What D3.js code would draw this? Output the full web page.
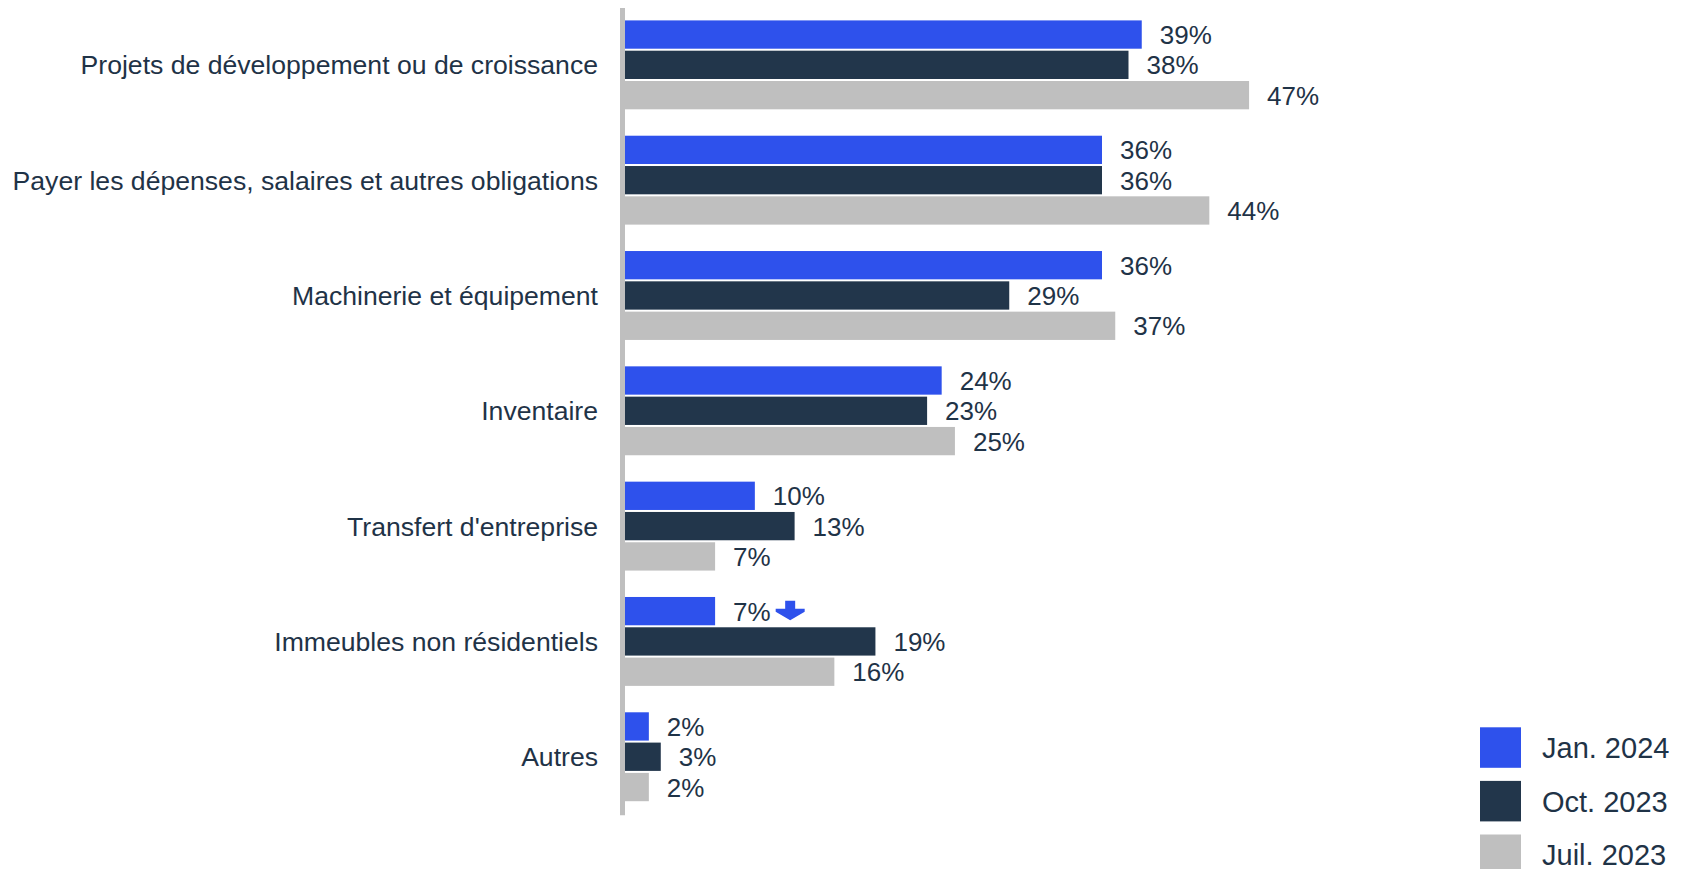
<!DOCTYPE html>
<html>
<head>
<meta charset="utf-8">
<script src="https://cdn.jsdelivr.net/npm/d3@7"></script>
<style>
  html, body { margin: 0; padding: 0; background: #ffffff; }
  svg { display: block; }
  text { font-family: "Liberation Sans", Arial, sans-serif; fill: #1f3347; }
</style>
</head>
<body>
<svg id="chart" width="1687" height="869"></svg>
<script>
// ---- Data (in %) ----
const categories = [
  "Projets de développement ou de croissance",
  "Payer les dépenses, salaires et autres obligations",
  "Machinerie et équipement",
  "Inventaire",
  "Transfert d'entreprise",
  "Immeubles non résidentiels",
  "Autres"
];
const seriesNames = ["Jan. 2024", "Oct. 2023", "Juil. 2023"];
const jan2024 = [39.0, 36.0, 36.0, 23.9, 9.8, 6.8, 1.8];
const oct2023 = [38.0, 36.0, 29.0, 22.8, 12.8, 18.9, 2.7];
const juil2023 = [47.1, 44.1, 37.0, 24.9, 6.8, 15.8, 1.8];
const seriesValues = [jan2024, oct2023, juil2023];
const seriesColors = ["#2e51ec", "#22364b", "#bfbfbf"];
// annotation: downward arrow next to a label
const arrowNotes = [{ category: "Immeubles non résidentiels", series: "Jan. 2024" }];

// ---- Scales ----
const svg = d3.select("#chart");
const x = d3.scaleLinear().domain([0, 50]).range([625, 625 + 50 * 13.25]);
const y = d3.scaleBand().domain(categories).range([20.4, 801.2]).paddingInner(0.229);
const yInner = d3.scaleBand().domain(seriesNames).range([0, y.bandwidth()]).paddingInner(0.066);
const color = d3.scaleOrdinal().domain(seriesNames).range(seriesColors);

const rows = [];
categories.forEach((c, ci) => {
  seriesNames.forEach((s, si) => {
    rows.push({ category: c, series: s, value: seriesValues[si][ci] });
  });
});

// ---- Bars ----
svg.append("g").selectAll("rect").data(rows).join("rect")
  .attr("x", x(0))
  .attr("y", d => y(d.category) + yInner(d.series))
  .attr("width", d => x(d.value) - x(0))
  .attr("height", yInner.bandwidth())
  .attr("fill", d => color(d.series));

// ---- Axis line ----
svg.append("line")
  .attr("x1", x(0) - 2.5).attr("x2", x(0) - 2.5)
  .attr("y1", y.range()[0] - 12.5).attr("y2", y.range()[1] + 14)
  .attr("stroke", "#bfbfbf").attr("stroke-width", 5);

// ---- Category labels ----
svg.append("g").selectAll("text").data(categories).join("text")
  .attr("x", x(0) - 27)
  .attr("y", c => y(c) + yInner(seriesNames[1]) + yInner.bandwidth() / 2)
  .attr("dy", "0.36em")
  .attr("text-anchor", "end")
  .style("font-size", "26.6px")
  .text(c => c);

// ---- Value labels ----
const valueLabels = svg.append("g").selectAll("text").data(rows).join("text")
  .attr("x", d => x(d.value) + 18)
  .attr("y", d => y(d.category) + yInner(d.series) + yInner.bandwidth() / 2)
  .attr("dy", "0.37em")
  .style("font-size", "26px")
  .text(d => Math.round(d.value) + "%");

// ---- Arrow annotation ----
valueLabels.each(function (d) {
  const note = arrowNotes.find(a => a.category === d.category && a.series === d.series);
  if (!note) return;
  const bb = this.getBBox();
  const x0 = bb.x + bb.width + 5;
  const yc = y(d.category) + yInner(d.series) + yInner.bandwidth() / 2;
  const w = 29, cx = x0 + w / 2, top = yc - 10.5;
  const path = d3.path();
  path.moveTo(cx - 5, top);
  path.lineTo(cx + 5, top);
  path.lineTo(cx + 5, top + 8);
  path.lineTo(x0 + w, top + 8);
  path.lineTo(x0 + w, top + 11);
  path.lineTo(cx, top + 19.5);
  path.lineTo(x0, top + 11);
  path.lineTo(x0, top + 8);
  path.lineTo(cx - 5, top + 8);
  path.closePath();
  svg.append("path").attr("d", path.toString()).attr("fill", color(d.series));
});

// ---- Legend ----
const legend = svg.append("g").selectAll("g").data(seriesNames).join("g")
  .attr("transform", (s, i) => `translate(1480, ${727.3 + i * 53.6})`);
legend.append("rect")
  .attr("width", 41).attr("height", 40.5)
  .attr("fill", s => color(s));
legend.append("text")
  .attr("x", 62).attr("y", 20.25)
  .attr("dy", "0.37em")
  .style("font-size", "29px")
  .text(s => s);
</script>
</body>
</html>
